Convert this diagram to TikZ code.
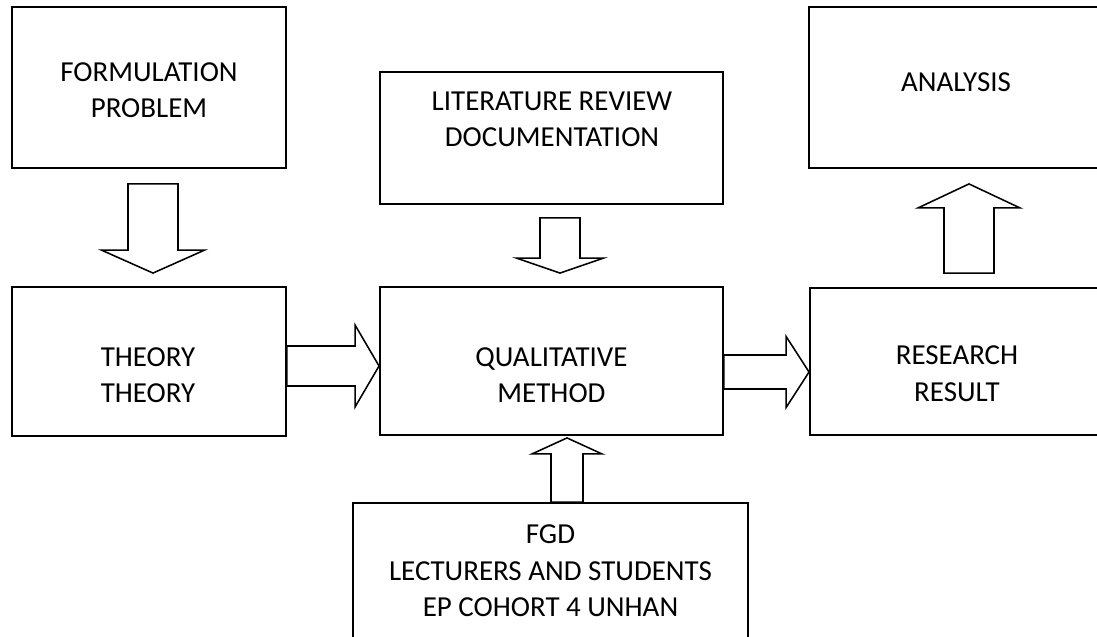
\documentclass[tikz,border=0pt]{standalone}
\usepackage{fontspec}
\setmainfont{Carlito}
\usetikzlibrary{calc}

% hollow block arrow: start, tip, shaft half-width, head half-width, head length
\newcommand{\fatarrow}[5]{%
  \coordinate (fa-base) at ($(#2)!#5!(#1)$);
  \draw[fatline] ($(#1)!#3!-90:(#2)$) -- ($(fa-base)!#3!-90:(#2)$) -- ($(fa-base)!#4!-90:(#2)$) -- (#2)
    -- ($(fa-base)!#4!90:(#2)$) -- ($(fa-base)!#3!90:(#2)$) -- ($(#1)!#3!90:(#2)$) -- cycle;
}

\tikzset{
  stagebox/.style={draw, line width=1.3pt, rectangle, inner sep=0pt},
  stagetext/.style={align=center, inner sep=0pt, font=\fontsize{20.6}{25.9}\selectfont},
  fatline/.style={draw, line width=1.1pt, line join=miter}
}

\begin{document}
\begin{tikzpicture}[x=0.025cm, y=-0.025cm]
  \useasboundingbox (0,0) rectangle (1097,637);

  % top row
  \node[stagebox, minimum width=6.85cm, minimum height=4.025cm] (form) at (149,87.5) {};
  \node[stagetext] (form-t) at (149,90) {FORMULATION\\PROBLEM};
  \node[stagebox, minimum width=8.575cm, minimum height=3.3cm] (lit) at (551.5,138) {};
  \node[stagetext] (lit-t) at (552,119.5) {LITERATURE REVIEW\\DOCUMENTATION};
  \node[stagebox, minimum width=7.35cm, minimum height=4.025cm] (analysis) at (956,87.5) {};
  \node[stagetext] (analysis-t) at (956,82) {ANALYSIS};

  % middle row
  \node[stagebox, minimum width=6.85cm, minimum height=3.725cm] (theory) at (149,361.5) {};
  \node[stagetext] (theory-t) at (148,375) {THEORY\\THEORY};
  \node[stagebox, minimum width=8.575cm, minimum height=3.7cm] (qual) at (551.5,361) {};
  \node[stagetext] (qual-t) at (551.5,375) {QUALITATIVE\\METHOD};
  \node[stagebox, minimum width=7.325cm, minimum height=3.675cm] (research) at (956.5,361.5) {};
  \node[stagetext] (research-t) at (957,373.5) {RESEARCH\\RESULT};

  % bottom box
  \node[stagebox, minimum width=9.875cm, minimum height=3.45cm] (fgd) at (550.5,572) {};
  \node[stagetext] (fgd-t) at (550.5,571) {FGD\\LECTURERS AND STUDENTS\\EP COHORT 4 UNHAN};

  % arrow ends
  \coordinate (a1s) at ($(form.south)+(4,15)$);      \coordinate (a1t) at ($(theory.north)+(4,-13)$);
  \coordinate (a2s) at ($(lit.south)+(8.5,13)$);     \coordinate (a2t) at ($(qual.north)+(8.5,-13)$);
  \coordinate (a3s) at ($(theory.east)+(0,4.5)$);    \coordinate (a3t) at ($(qual.west)+(0,5)$);
  \coordinate (a4s) at ($(qual.east)+(0,11)$);       \coordinate (a4t) at ($(research.west)+(0,10.5)$);
  \coordinate (a5s) at ($(research.north)+(12.5,-14)$); \coordinate (a5t) at ($(analysis.south)+(13,15)$);
  \coordinate (a6s) at ($(fgd.north)+(16.5,0)$);     \coordinate (a6t) at ($(qual.south)+(15.5,2)$);

  \fatarrow{a1s}{a1t}{0.625cm}{1.29cm}{0.575cm}
  \fatarrow{a2s}{a2t}{0.5cm}{1.09cm}{0.375cm}
  \fatarrow{a3s}{a3t}{0.5cm}{1.025cm}{0.6cm}
  \fatarrow{a4s}{a4t}{0.425cm}{0.89cm}{0.575cm}
  \fatarrow{a5s}{a5t}{0.625cm}{1.275cm}{0.6cm}
  \fatarrow{a6s}{a6t}{0.4cm}{0.875cm}{0.4cm}
\end{tikzpicture}
\end{document}
